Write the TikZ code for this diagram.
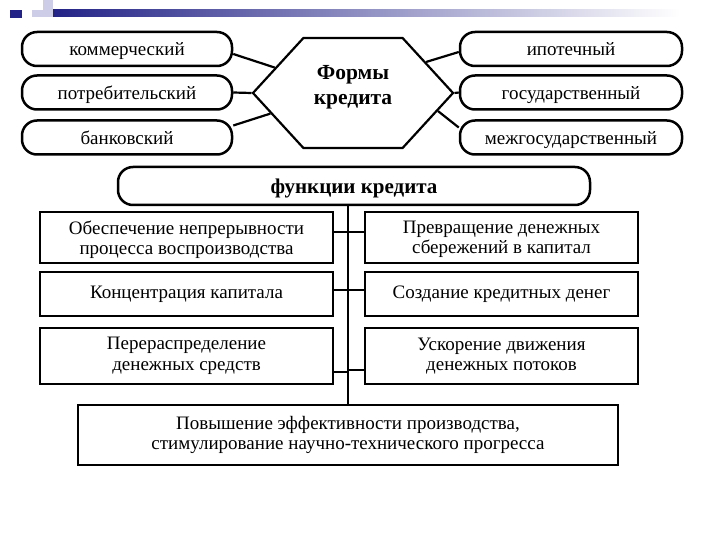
\documentclass[tikz,border=0pt]{standalone}
\usepackage{fontspec}
\setmainfont{Liberation Serif}
\usetikzlibrary{shapes.symbols}
\definecolor{barblue}{RGB}{35,35,135}
\definecolor{barpale}{RGB}{205,205,232}
\tikzset{
  pill/.style={draw, line width=2.5pt, rounded corners=15pt, minimum height=34pt, inner sep=2pt, text depth=0pt},
  fbox/.style={draw, line width=2.5pt, align=center, inner sep=2pt},
  link/.style={line width=2.2pt},
}
\begin{document}
\begin{tikzpicture}[x=1pt,y=-1pt,font=\fontsize{19}{20.5}\selectfont]
\useasboundingbox (0,0) rectangle (720,540);
\fill[barblue] (10,10) rectangle (22,18);
\fill[barpale] (32,10) rectangle (53,17);
\fill[barpale] (43,0) rectangle (53,17);
\shade[left color=barblue, right color=white] (53,10) rectangle (680,17);
\node[signal, signal to=west and east, draw, line width=2.2pt, minimum width=200pt, minimum height=110pt, signal pointer angle=95,
  label={[align=center, yshift=5.5pt, font=\fontsize{21.5}{25}\selectfont\bfseries]center:{Формы\\кредита}}] (forms) at (353,93) {};
\node[pill, minimum width=210pt] (komm) at (127,49) {коммерческий};
\node[pill, minimum width=210pt] (potr) at (127,92.5) {потребительский};
\node[pill, minimum width=210pt] (bank) at (127,137.5) {банковский};
\node[pill, minimum width=222pt] (ipot) at (571,49) {ипотечный};
\node[pill, minimum width=222pt] (gos) at (571,92.5) {государственный};
\node[pill, minimum width=222pt] (mezh) at (571,137.5) {межгосударственный};
\draw[link] ([yshift=-5pt]komm.east) -- (forms.162);
\draw[link] (potr.east) -- (forms.west);
\draw[link] ([yshift=12pt]bank.east) -- (forms.194);
\draw[link] ([yshift=-3pt]ipot.west) -- (forms.23);
\draw[link] (gos.west) -- (forms.east);
\draw[link] ([yshift=10pt]mezh.west) -- (forms.-12);
\node[pill, minimum width=472pt, minimum height=38pt, font=\fontsize{21}{22}\selectfont\bfseries] (func) at (354,186) {функции кредита};
\node[fbox, minimum width=293pt, minimum height=51pt, text depth=0pt] (obes) at (186.5,237.5) {Обеспечение непрерывности\\процесса воспроизводства};
\node[fbox, minimum width=273pt, minimum height=51pt, text depth=0pt] (prev) at (501.5,237.5) {Превращение денежных\\сбережений в капитал};
\node[fbox, minimum width=293pt, minimum height=44pt] (konc) at (186.5,294) {Концентрация капитала};
\node[fbox, minimum width=273pt, minimum height=44pt] (sozd) at (501.5,294) {Создание кредитных денег};
\node[fbox, minimum width=293pt, minimum height=56pt] (pere) at (186.5,356) {Перераспределение\\денежных средств};
\node[fbox, minimum width=273pt, minimum height=56pt] (usk) at (501.5,356) {Ускорение движения\\денежных потоков};
\node[fbox, minimum width=540pt, minimum height=60pt] (eff) at (348,435) {Повышение эффективности производства,\\стимулирование научно-технического прогресса};
\draw[link] (eff.north) -- (eff.north |- func.south);
\draw[link] ([yshift=5.5pt]obes.east) -- ([yshift=5.5pt]obes.east -| eff.north);
\draw[link] ([yshift=5.5pt]prev.west) -- ([yshift=5.5pt]prev.west -| eff.north);
\draw[link] ([yshift=4pt]konc.east) -- ([yshift=4pt]konc.east -| eff.north);
\draw[link] ([yshift=4pt]sozd.west) -- ([yshift=4pt]sozd.west -| eff.north);
\draw[link] ([yshift=-16pt]pere.east) -- ([yshift=-16pt]pere.east -| eff.north);
\draw[link] ([yshift=-14pt]usk.west) -- ([yshift=-14pt]usk.west -| eff.north);
\end{tikzpicture}
\end{document}
